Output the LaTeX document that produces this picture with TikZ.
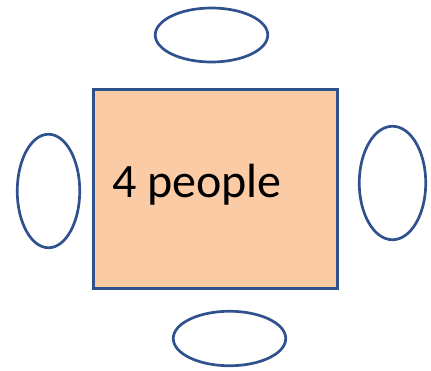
\documentclass[tikz,border=0pt]{standalone}
\usepackage{fontspec}
\setmainfont{Carlito}
\usepackage{xcolor}
\usepackage{tikz}
\usetikzlibrary{shapes.geometric}
\definecolor{tableFill}{HTML}{FBCBA6}
\definecolor{edgeBlue}{HTML}{2F528F}
\tikzset{
  tablebox/.style={rectangle, draw=edgeBlue, line width=2.7pt, fill=tableFill, inner sep=0pt},
  seat/.style={ellipse, draw=edgeBlue, line width=2.7pt, fill=white, inner sep=0pt},
  label/.style={inner sep=0pt, font=\fontsize{48}{57}\selectfont}
}

\begin{document}
\begin{tikzpicture}[x=1pt,y=-1pt]
  \useasboundingbox (0,0) rectangle (431,370);
  \node[tablebox, minimum width=244.5pt, minimum height=199.5pt] (tbl) at (215.5,189) {};
  \node[label, anchor=base west] (txt) at (112,197) {4 people};
  \node[seat, minimum width=112.5pt, minimum height=54pt] (top) at (211.5,35) {};
  \node[seat, minimum width=62.5pt, minimum height=113.5pt] (left) at (48.5,191) {};
  \node[seat, minimum width=66.5pt, minimum height=113.5pt] (right) at (392.5,183) {};
  \node[seat, minimum width=112.5pt, minimum height=54.5pt] (bottom) at (229.5,338.5) {};
\end{tikzpicture}
\end{document}
